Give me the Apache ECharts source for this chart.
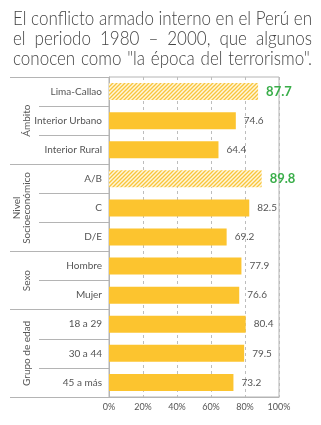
<!DOCTYPE html>
<html><head><meta charset="utf-8">
<script src="https://cdn.jsdelivr.net/npm/echarts@6/dist/echarts.min.js"></script>
<style>html,body{margin:0;padding:0;background:#fff}#c{width:321px;height:425px}</style>
</head><body><div id="c"></div>
<script>
const titleLines = [
  'El conflicto armado interno en el Perú en',
  'el periodo 1980 – 2000, que algunos',
  'conocen como "la época del terrorismo".'
];
const categories = ['Lima-Callao','Interior Urbano','Interior Rural','A/B','C','D/E','Hombre','Mujer','18 a 29','30 a 44','45 a más'];
const values = [87.7, 74.6, 64.4, 89.8, 82.5, 69.2, 77.9, 76.6, 80.4, 79.5, 73.2];
const highlighted = [true, false, false, true, false, false, false, false, false, false, false];
const groupNames = ['Ámbito', 'Nivel\nSocioeconómico', 'Sexo', 'Grupo de edad'];
const groupStarts = [0, 3, 6, 8];
const groupEnds = [2, 5, 7, 10];
const xTickValues = [0, 20, 40, 60, 80, 100];

const FONT = 'Lato, "Noto Sans", sans-serif';
const SOLID = '#fcc42f';
const GREEN = '#3aae4a';
const GRAY = '#555';
const LINE = '#b4b4b4';

// hatch pattern
const pc = document.createElement('canvas');
pc.width = 4; pc.height = 4;
const pg = pc.getContext('2d');
pg.fillStyle = '#fff6da'; pg.fillRect(0, 0, 4, 4);
pg.strokeStyle = '#f8c53c'; pg.lineWidth = 1.3;
pg.beginPath();
pg.moveTo(-1, 5); pg.lineTo(5, -1);
pg.moveTo(-1, 1); pg.lineTo(1, -1);
pg.moveTo(3, 5); pg.lineTo(5, 3);
pg.stroke();
const hatch = { image: pc, repeat: 'repeat' };

const boundaries = groupStarts.concat([groupEnds[groupEnds.length - 1] + 1]);

const chart = echarts.init(document.getElementById('c'), null, { renderer: 'canvas' });

const seriesData = values.map((v, i) => ({
  value: v,
  itemStyle: { color: highlighted[i] ? hatch : SOLID },
  label: highlighted[i]
    ? { fontSize: 13, fontWeight: 'bold', color: GREEN, distance: 8 }
    : { fontSize: 10, color: GRAY, distance: 8 }
}));

const option = {
  animation: false,
  grid: { left: 109, right: 42, top: 77, bottom: 28, show: true, borderColor: LINE, borderWidth: 1 },
  xAxis: {
    type: 'value', min: xTickValues[0], max: xTickValues[xTickValues.length - 1], interval: 20,
    axisLine: { show: true, lineStyle: { color: LINE } },
    axisTick: { show: false },
    axisLabel: { formatter: '{value}%', fontSize: 9, color: GRAY, margin: 6, fontFamily: FONT },
    splitLine: { show: true, lineStyle: { color: '#bdbdbd', type: [3, 3] } }
  },
  yAxis: [
    {
      type: 'category', data: categories, inverse: true,
      axisLine: { show: true, lineStyle: { color: LINE } },
      axisTick: { show: true, length: 70, lineStyle: { color: LINE }, interval: (i) => boundaries.indexOf(i) < 0 },
      axisLabel: { fontSize: 10, color: GRAY, margin: 7, fontFamily: FONT },
      splitLine: { show: false }
    },
    {
      type: 'category', data: categories, inverse: true, position: 'left',
      axisLine: { show: false },
      axisTick: { show: true, length: 99, lineStyle: { color: LINE }, interval: (i) => boundaries.indexOf(i) >= 0 },
      axisLabel: { show: false },
      splitLine: { show: false }
    }
  ],
  series: [{
    type: 'bar', data: seriesData, barWidth: 17, yAxisIndex: 0,
    label: { show: true, position: 'right', fontFamily: FONT }
  }]
};
chart.setOption(option);

// group labels
const graphics = [];
groupNames.forEach((name, g) => {
  const y0 = chart.convertToPixel({ yAxisIndex: 0 }, categories[groupStarts[g]]);
  const y1 = chart.convertToPixel({ yAxisIndex: 0 }, categories[groupEnds[g]]);
  const twoLines = name.indexOf('\n') >= 0;
  graphics.push({
    type: 'text', x: twoLines ? 22 : 27, y: (y0 + y1) / 2, rotation: Math.PI / 2,
    style: { text: name, fontSize: 10, fontFamily: FONT, fill: GRAY, align: 'center', verticalAlign: 'middle', lineHeight: 10 }
  });
});

// justified title
const tFontSize = 19;
const tFont = '300 ' + tFontSize + 'px ' + FONT;
const mc = document.createElement('canvas').getContext('2d');
mc.font = tFont;
const left = 13, right = 312, width = right - left;
const s = width / mc.measureText(titleLines[0]).width;
const lineY = [19, 39, 59];
titleLines.forEach((line, li) => {
  const words = line.split(' ');
  const ws = words.map(w => mc.measureText(w).width * s);
  const total = ws.reduce((a, b) => a + b, 0);
  const gap = (width - total) / (words.length - 1);
  let x = left;
  words.forEach((w, wi) => {
    graphics.push({
      type: 'text', x: x, y: lineY[li], scaleX: s,
      style: { text: w, font: tFont, fill: '#444', align: 'left', verticalAlign: 'middle' }
    });
    x += ws[wi] + gap;
  });
});
chart.setOption({ graphic: graphics });
</script>
</body></html>
